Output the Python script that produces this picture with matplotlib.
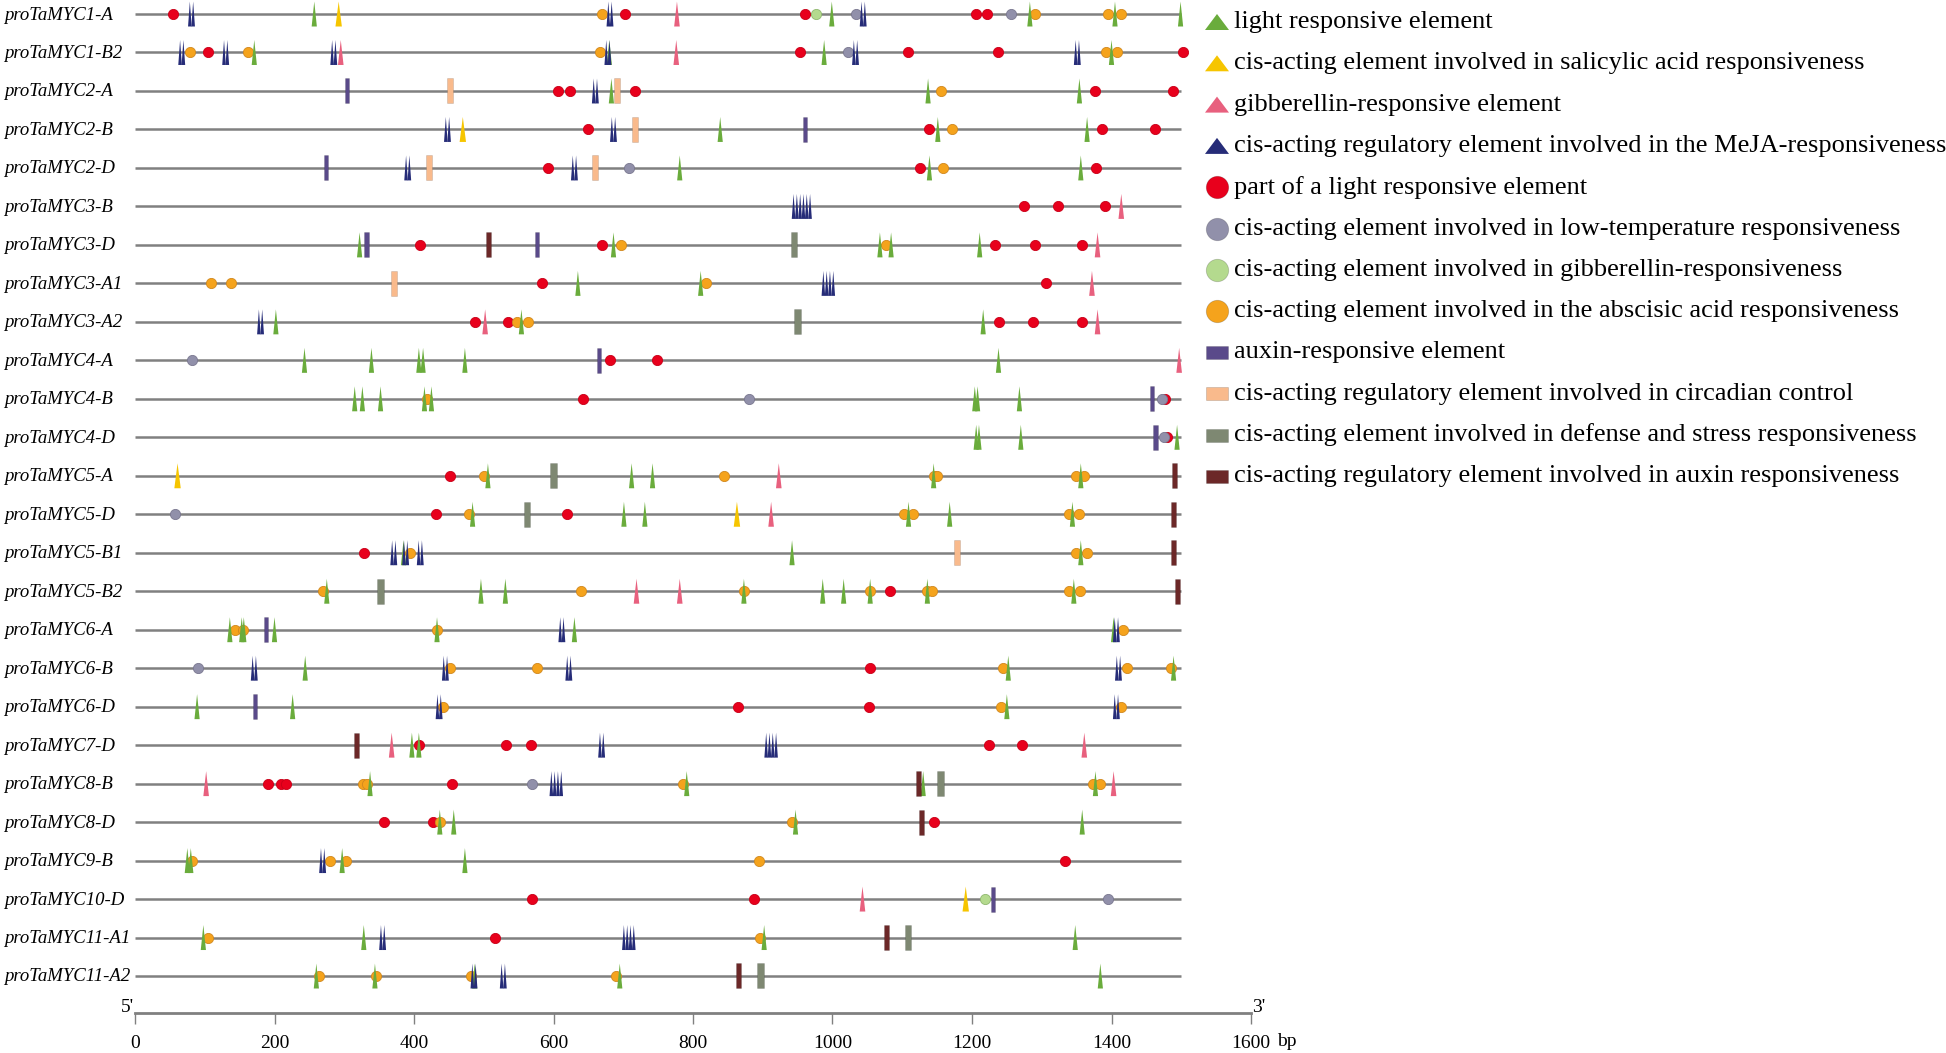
import matplotlib
matplotlib.use("Agg")
import matplotlib.pyplot as plt
from matplotlib.patches import Polygon, Rectangle
from matplotlib.transforms import blended_transform_factory

# promoter names, top to bottom
promoters = ["proTaMYC1-A", "proTaMYC1-B2", "proTaMYC2-A", "proTaMYC2-B", "proTaMYC2-D",
             "proTaMYC3-B", "proTaMYC3-D", "proTaMYC3-A1", "proTaMYC3-A2", "proTaMYC4-A",
             "proTaMYC4-B", "proTaMYC4-D", "proTaMYC5-A", "proTaMYC5-D", "proTaMYC5-B1",
             "proTaMYC5-B2", "proTaMYC6-A", "proTaMYC6-B", "proTaMYC6-D", "proTaMYC7-D",
             "proTaMYC8-B", "proTaMYC8-D", "proTaMYC9-B", "proTaMYC10-D", "proTaMYC11-A1",
             "proTaMYC11-A2"]
promoter_len = 1500

# element positions (row index, bp)
light_resp = [(0, 257), (0, 999), (0, 1283), (0, 1405), (0, 1499),
              (1, 171), (1, 680), (1, 988), (1, 1400),
              (2, 683), (2, 1137), (2, 1354),
              (3, 839), (3, 1151), (3, 1365),
              (4, 781), (4, 1139), (4, 1356),
              (6, 322), (6, 686), (6, 1068), (6, 1084), (6, 1211),
              (7, 635), (7, 811),
              (8, 202), (8, 554), (8, 1216),
              (9, 243), (9, 339), (9, 407), (9, 413), (9, 473), (9, 1238),
              (10, 315), (10, 326), (10, 352), (10, 415), (10, 425), (10, 1204), (10, 1208), (10, 1268),
              (11, 1206), (11, 1210), (11, 1270), (11, 1494),
              (12, 506), (12, 712), (12, 742), (12, 1145), (12, 1356),
              (13, 484), (13, 701), (13, 731), (13, 1109), (13, 1168), (13, 1344),
              (14, 385), (14, 942), (14, 1356),
              (15, 275), (15, 496), (15, 531), (15, 873), (15, 986), (15, 1016), (15, 1054), (15, 1136), (15, 1346),
              (16, 136), (16, 153), (16, 156), (16, 200), (16, 433), (16, 630), (16, 1403),
              (17, 244), (17, 1252), (17, 1489),
              (18, 89), (18, 226), (18, 1250),
              (19, 397), (19, 407),
              (20, 337), (20, 791), (20, 1130), (20, 1377),
              (21, 437), (21, 457), (21, 947), (21, 1358),
              (22, 75), (22, 80), (22, 297), (22, 473),
              (24, 98), (24, 328), (24, 902), (24, 1348),
              (25, 260), (25, 344), (25, 487), (25, 695), (25, 1384)]
salicylic = [(0, 292), (3, 470), (12, 61), (13, 863), (23, 1191)]
gibberellin_resp = [(0, 777), (1, 295), (1, 776), (5, 1414), (6, 1380), (7, 1372), (8, 502), (8, 1380),
                    (9, 1497), (12, 923), (13, 912), (15, 719), (15, 781), (19, 368), (19, 1361),
                    (20, 102), (20, 1403), (23, 1043)]
# MeJA: (row, bp, number of motifs)
meja = [(0, 81, 2), (0, 681, 2), (0, 1044, 2),
        (1, 67, 2), (1, 130, 2), (1, 285, 2), (1, 678, 2), (1, 1033, 2), (1, 1351, 2),
        (2, 660, 2), (3, 448, 2), (3, 686, 2), (4, 391, 2), (4, 630, 2),
        (5, 956, 6), (7, 994, 4), (8, 180, 2),
        (14, 371, 2), (14, 388, 2), (14, 409, 2),
        (16, 612, 2), (16, 1407, 2),
        (17, 171, 2), (17, 445, 2), (17, 622, 2), (17, 1410, 2),
        (18, 436, 2), (18, 1407, 2),
        (19, 669, 2), (19, 912, 4), (20, 604, 4), (22, 269, 2),
        (24, 355, 2), (24, 708, 4), (25, 486, 2), (25, 528, 2)]
light_part = [(0, 55), (0, 702), (0, 961), (0, 1206), (0, 1221),
              (1, 104), (1, 954), (1, 1108), (1, 1237), (1, 1503),
              (2, 607), (2, 623), (2, 717), (2, 1376), (2, 1488),
              (3, 649), (3, 1138), (3, 1386), (3, 1463),
              (4, 592), (4, 1126), (4, 1378),
              (5, 1275), (5, 1324), (5, 1391),
              (6, 408), (6, 670), (6, 1233), (6, 1291), (6, 1357),
              (7, 583), (7, 1306),
              (8, 488), (8, 535), (8, 1238), (8, 1288), (8, 1357),
              (9, 681), (9, 748), (10, 642), (10, 1477), (11, 1480),
              (12, 451), (13, 432), (13, 620), (14, 328), (15, 1082),
              (17, 1054), (18, 865), (18, 1053),
              (19, 407), (19, 532), (19, 568), (19, 1225), (19, 1271),
              (20, 190), (20, 210), (20, 217), (20, 455),
              (21, 357), (21, 427), (21, 1145),
              (22, 1334), (23, 569), (23, 888), (24, 516)]
low_temp = [(0, 1033), (0, 1256), (1, 1022), (4, 708), (9, 82), (10, 881), (10, 1472),
            (11, 1475), (13, 57), (17, 91), (20, 569), (23, 1395)]
gibberellin_circ = [(0, 977), (23, 1219)]
abscisic = [(0, 669), (0, 1291), (0, 1395), (0, 1414),
            (1, 79), (1, 162), (1, 666), (1, 1392), (1, 1408),
            (2, 1156), (3, 1171), (4, 1159), (6, 697), (6, 1077),
            (7, 109), (7, 138), (7, 819), (8, 547), (8, 563), (10, 419),
            (12, 500), (12, 844), (12, 1145), (12, 1150), (12, 1349), (12, 1361),
            (13, 479), (13, 1102), (13, 1115), (13, 1339), (13, 1354),
            (14, 394), (14, 1349), (14, 1365),
            (15, 269), (15, 640), (15, 873), (15, 1054), (15, 1136), (15, 1143), (15, 1339), (15, 1355),
            (16, 144), (16, 155), (16, 433), (16, 1417),
            (17, 451), (17, 577), (17, 1244), (17, 1422), (17, 1485),
            (18, 442), (18, 1242), (18, 1413),
            (20, 327), (20, 332), (20, 785), (20, 1373), (20, 1384),
            (21, 437), (21, 942),
            (22, 82), (22, 280), (22, 303), (22, 895),
            (24, 104), (24, 896),
            (25, 264), (25, 346), (25, 482), (25, 689)]
auxin_resp = [(2, 304), (3, 961), (4, 274), (6, 332), (6, 576), (9, 665), (10, 1458),
              (11, 1463), (16, 188), (18, 172), (23, 1230)]
circadian = [(2, 451), (2, 691), (3, 717), (4, 421), (4, 660), (7, 372), (14, 1179)]
defense = [(6, 945), (8, 950), (12, 600), (13, 562), (15, 352), (20, 1155), (24, 1108), (25, 897)]
auxin_reg = [(6, 507), (12, 1490), (13, 1489), (14, 1489), (15, 1494), (19, 317), (20, 1124),
             (21, 1128), (24, 1078), (25, 865)]

legend_labels = ["light responsive element",
                 "cis-acting element involved in salicylic acid responsiveness",
                 "gibberellin-responsive element",
                 "cis-acting regulatory element involved in the MeJA-responsiveness",
                 "part of a light responsive element",
                 "cis-acting element involved in low-temperature responsiveness",
                 "cis-acting element involved in gibberellin-responsiveness",
                 "cis-acting element involved in the abscisic acid responsiveness",
                 "auxin-responsive element",
                 "cis-acting regulatory element involved in circadian control",
                 "cis-acting element involved in defense and stress responsiveness",
                 "cis-acting regulatory element involved in auxin responsiveness"]

c_green = "#6aac3c"
c_yellow = "#f6c500"
c_pink = "#e8607e"
c_navy = "#262c78"
c_red = "#e8001c"
c_grey = "#9190aa"
c_lgreen = "#b4da8e"
c_orange = "#f5a31c"
c_purple = "#5a4a8a"
c_peach = "#f9ba8c"
c_defense = "#7e8872"
c_maroon = "#6c2828"

W, H = 1946, 1053
fig = plt.figure(figsize=(W / 100, H / 100), dpi=100)
x0_px, x1_px = 135, 1251
ax = fig.add_axes([x0_px / W, 0, (x1_px - x0_px) / W, 1])
ax.set_xlim(0, 1600)
ax.set_ylim(H, 0)  # vertical axis in pixels
ax.patch.set_alpha(0)

bp_per_px = 1600 / (x1_px - x0_px)
row_y0, row_dy = 14, 38.48


def ry(i):
    return row_y0 + row_dy * i


serif = "Liberation Serif"

# promoter lines + names
lab_tr = blended_transform_factory(fig.transFigure, ax.transData)
for i, name in enumerate(promoters):
    ax.plot([0, promoter_len], [ry(i), ry(i)], color="#808080", lw=1.8, zorder=1,
            solid_capstyle="butt")
    ax.text(4 / W, ry(i) + 1, name, transform=lab_tr, family=serif, style="italic",
            fontsize=13.5, ha="left", va="center")


def tri(x, y, half_px, h_px, color, z=3):
    hw = half_px * bp_per_px
    p = Polygon([(x - hw, y + h_px / 2), (x + hw, y + h_px / 2), (x, y - h_px / 2)],
                closed=True, facecolor=color, edgecolor="none", zorder=z)
    ax.add_patch(p)


def rect(x, y, w_px, h_px, color, z=4):
    w = w_px * bp_per_px
    ax.add_patch(Rectangle((x - w / 2, y - h_px / 2), w, h_px, facecolor=color,
                           edgecolor="#00000030", lw=0.4, zorder=z))


def circles(items, color, edge):
    xs = [b for r, b in items]
    ys = [ry(r) for r, b in items]
    ax.scatter(xs, ys, s=54, color=color, edgecolors=edge, linewidths=0.6, zorder=2.5)


circles(light_part, c_red, "#c80018")
circles(low_temp, c_grey, "#7a7890")
circles(gibberellin_circ, c_lgreen, "#90b870")
circles(abscisic, c_orange, "#d08820")

for r, b in light_resp:
    tri(b, ry(r), 2.6, 25, c_green)
for r, b in salicylic:
    tri(b, ry(r), 3.2, 25, c_yellow)
for r, b in gibberellin_resp:
    tri(b, ry(r), 2.8, 25, c_pink)
for r, b, n in meja:
    step = 3.3
    for k in range(n):
        off = (k - (n - 1) / 2) * step * bp_per_px
        tri(b + off, ry(r), 1.8, 25, c_navy)

for r, b in auxin_resp:
    rect(b, ry(r), 4.4, 25, c_purple)
for r, b in circadian:
    rect(b, ry(r), 6.0, 25, c_peach)
for r, b in defense:
    rect(b, ry(r), 6.5, 25, c_defense)
for r, b in auxin_reg:
    rect(b, ry(r), 5.0, 25, c_maroon)

# scale axis
axis_y = 1013
for s in ["top", "left", "right"]:
    ax.spines[s].set_visible(False)
ax.spines["bottom"].set_position(("data", axis_y))
ax.spines["bottom"].set_color("#808080")
ax.spines["bottom"].set_linewidth(2.0)
ax.set_yticks([])
ax.set_xticks(range(0, 1601, 200))
ax.tick_params(axis="x", direction="out", length=8, width=1.0, color="#808080", pad=8,
               labelsize=14)
for t in ax.get_xticklabels():
    t.set_family(serif)
ax.text(1637, 1041, "bp", family=serif, fontsize=14, ha="left", va="center")
ax.text(-2, axis_y - 1, "5'", family=serif, fontsize=14, ha="right", va="baseline")
ax.text(1602, axis_y - 1, "3'", family=serif, fontsize=14, ha="left", va="baseline")

# legend
leg = fig.add_axes([0, 0, 1, 1])
leg.set_xlim(0, W)
leg.set_ylim(H, 0)
leg.axis("off")
leg.patch.set_alpha(0)
lx, ltx = 1217, 1234
leg_kind = [("tri", c_green), ("tri", c_yellow), ("tri", c_pink), ("tri", c_navy),
            ("circ", c_red), ("circ", c_grey), ("circ", c_lgreen), ("circ", c_orange),
            ("rect", c_purple), ("rect", c_peach), ("rect", c_defense), ("rect", c_maroon)]
for i, (lab, (kind, col)) in enumerate(zip(legend_labels, leg_kind)):
    y = 22 + 41.3 * i
    if kind == "tri":
        leg.add_patch(Polygon([(lx - 12, y + 8), (lx + 12, y + 8), (lx, y - 8)],
                              closed=True, facecolor=col, edgecolor="none"))
    elif kind == "circ":
        leg.scatter([lx], [y], s=260, color=col, edgecolors="#00000030", linewidths=0.6)
    else:
        leg.add_patch(Rectangle((lx - 11, y - 6.5), 22, 13, facecolor=col,
                                edgecolor="#00000030", lw=0.5))
    leg.text(ltx, y, lab, family=serif, fontsize=19, ha="left", va="center")

fig.savefig("out.png", dpi=100)
